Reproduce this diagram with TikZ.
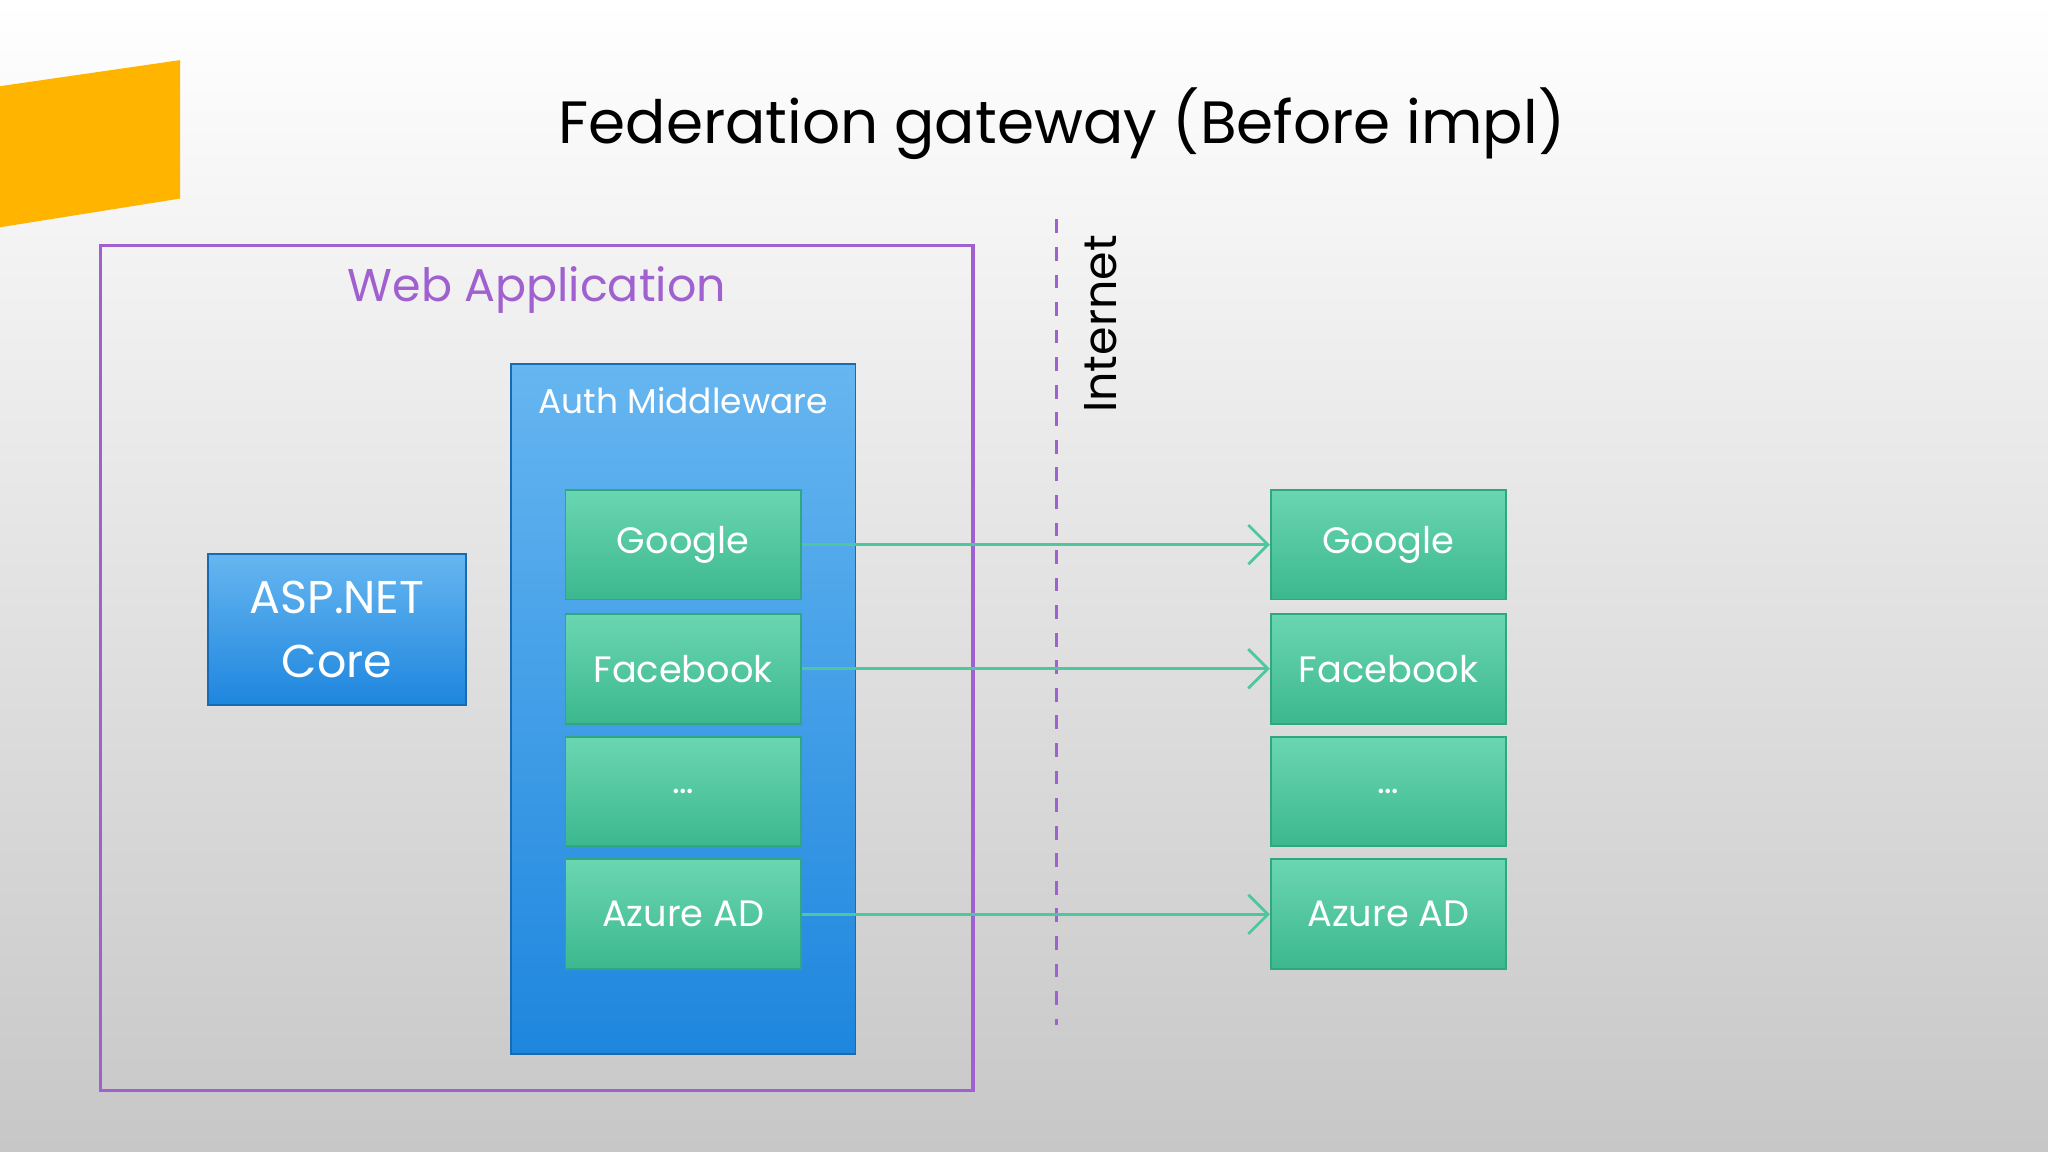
\documentclass[tikz,border=0pt]{standalone}
\usepackage{fontspec}
\setmainfont{Poppins}
\usetikzlibrary{positioning, arrows.meta, calc}
\definecolor{accent}{HTML}{FFB400}
\definecolor{webpurple}{HTML}{A060D0}
\definecolor{blueTop}{HTML}{66B6F0}
\definecolor{blueBot}{HTML}{1E86DE}
\definecolor{greenTop}{HTML}{6AD6B2}
\definecolor{greenBot}{HTML}{3CB88E}
\definecolor{greenLine}{HTML}{2FA882}
\definecolor{linkcol}{HTML}{4CC8A0}
\tikzset{
  prov/.style={draw=greenLine, top color=greenTop, bottom color=greenBot,
    minimum width=1.8cm, minimum height=0.84cm, text=white, font=\fontsize{8}{9}\selectfont},
  link/.style={draw=linkcol, line width=0.6pt, -{Straight Barb[length=1.5mm, width=3mm]}}
}
\begin{document}
\begin{tikzpicture}[x=0.01cm, y=-0.01cm]
    % background
    \shade[top color=white, bottom color=black!22] (0,0) rectangle (1568,882);
    \useasboundingbox (0,0) rectangle (1568,882);
    \fill[accent] (0,66) -- (138,46) -- (138,152) -- (0,174) -- cycle;
    \node[font=\fontsize{13}{15}\selectfont] (title) at (813,95) {Federation gateway (Before impl)};

    % web application
    \draw[webpurple, line width=0.8pt] (77,188) rectangle (745,835);
    \node[text=webpurple, font=\fontsize{10}{12}\selectfont] (webapp) at (411,222) {Web Application};

    \draw[draw=blueBot!80!black, top color=blueTop, bottom color=blueBot] (391,279) rectangle (655,807);
    \node[text=white, font=\fontsize{7.5}{9}\selectfont] (auth) at (523,307) {Auth Middleware};

    \node[draw=blueBot!80!black, top color=blueTop, bottom color=blueBot, minimum width=1.98cm,
      minimum height=1.15cm, text=white, align=center, font=\fontsize{10}{14}\selectfont]
      (aspnet) at (258,482) {ASP.NET\\Core};

    % providers
    \foreach \n/\t/\y in {g/Google/417, f/Facebook/512, d/{\dots}/606, a/Azure AD/700} {
        \node[prov] (l\n) at (523,\y) {\t};
        \node[prov] (r\n) at (1063,\y) {\t};
    }

    % internet boundary
    \draw[webpurple, dashed, line width=0.6pt] (809,168) -- (809,785);
    \node[rotate=90, font=\fontsize{10}{12}\selectfont] (inet) at (843,248) {Internet};

    \draw[link] (lg) -- (rg);
    \draw[link] (lf) -- (rf);
    \draw[link] (la) -- (ra);
\end{tikzpicture}
\end{document}
